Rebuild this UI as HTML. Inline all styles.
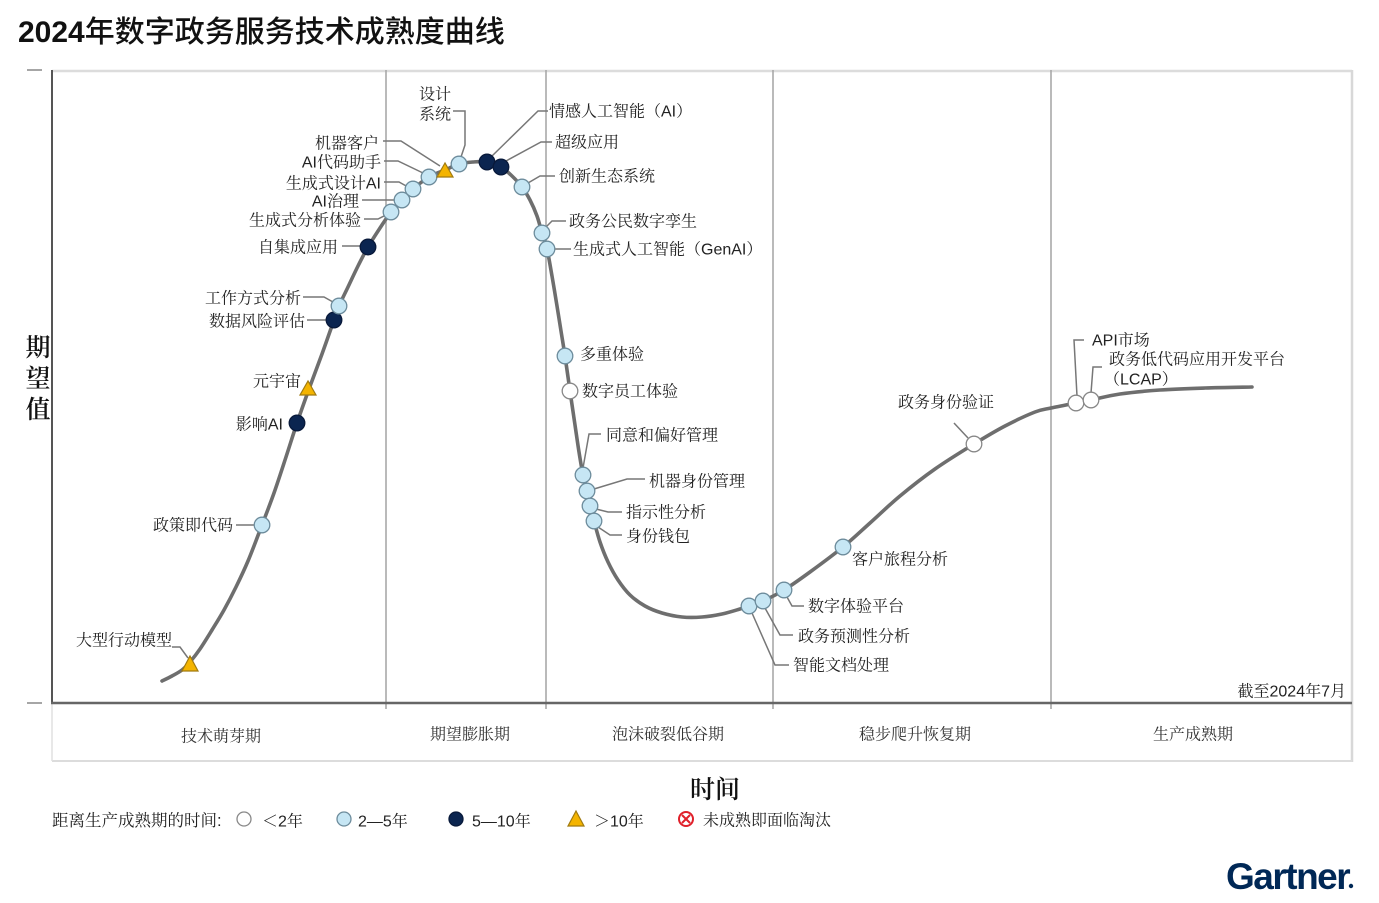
<!DOCTYPE html>
<html><head><meta charset="utf-8">
<style>
html,body{margin:0;padding:0;background:#fff;}
svg{display:block;}
.l{font-family:"Liberation Sans","Noto Serif CJK SC",serif;font-size:16px;fill:#222;dominant-baseline:central;transform:translateY(2px);}
.ph{font-family:"Liberation Sans","Noto Serif CJK SC",serif;font-size:16px;fill:#333;dominant-baseline:central;text-anchor:middle;transform:translateY(2px);}
.ld{fill:none;stroke:#777;stroke-width:1.5;}
.lb{fill:#c6e6f4;stroke:#6d8c9c;stroke-width:1.3;}
.nv{fill:#0b2550;stroke:#08193a;stroke-width:1.3;}
.wh{fill:#fff;stroke:#888;stroke-width:1.3;}
.tr{fill:#f4b400;stroke:#a07a10;stroke-width:1.2;}
</style></head>
<body>
<svg width="1379" height="903" viewBox="0 0 1379 903" xmlns="http://www.w3.org/2000/svg">
<!-- Title -->
<text x="18" y="42" style="font-size:30px;fill:#111;"><tspan style="font-family:'Liberation Sans',sans-serif;font-weight:bold;">2024</tspan><tspan style="font-family:'Noto Sans CJK SC',sans-serif;font-weight:500;">年数字政务服务技术成熟度曲线</tspan></text>

<!-- Frame -->
<line x1="52" y1="71" x2="1352" y2="71" stroke="#dcdcdc" stroke-width="2.5"/>
<line x1="1352" y1="70" x2="1352" y2="762" stroke="#d8d8d8" stroke-width="2.5"/>
<line x1="52" y1="761" x2="1352" y2="761" stroke="#dcdcdc" stroke-width="2"/>
<line x1="52" y1="703" x2="52" y2="761" stroke="#e0e0e0" stroke-width="1.5"/>
<line x1="27" y1="70" x2="42" y2="70" stroke="#888" stroke-width="1.5"/>
<line x1="27" y1="703" x2="42" y2="703" stroke="#888" stroke-width="1.5"/>
<!-- dividers -->
<line x1="386" y1="70" x2="386" y2="709" stroke="#a3a3a3" stroke-width="1.5"/>
<line x1="546" y1="70" x2="546" y2="709" stroke="#a3a3a3" stroke-width="1.5"/>
<line x1="773" y1="70" x2="773" y2="709" stroke="#a3a3a3" stroke-width="1.5"/>
<line x1="1051" y1="70" x2="1051" y2="709" stroke="#a3a3a3" stroke-width="1.5"/>
<!-- axes -->
<line x1="52" y1="70" x2="52" y2="704" stroke="#555" stroke-width="2"/>
<line x1="51" y1="703" x2="1352" y2="703" stroke="#666" stroke-width="2.5"/>

<!-- Leader lines -->
<polyline class="ld" points="172,647 180,647 188,658"/>
<polyline class="ld" points="236,525 255,525"/>
<polyline class="ld" points="307,320 327,320"/>
<polyline class="ld" points="303,297 324,297 333,302"/>
<polyline class="ld" points="342,246 361,246"/>
<polyline class="ld" points="364,219 378,219 386,215"/>
<polyline class="ld" points="362,200 395,200"/>
<polyline class="ld" points="384,182 399,182 408,187"/>
<polyline class="ld" points="384,161 398,161 423,173"/>
<polyline class="ld" points="383,141 401,141 440,166"/>
<polyline class="ld" points="453,111 465,111 465,145 461,157"/>
<polyline class="ld" points="492,156 538,111 548,111"/>
<polyline class="ld" points="506,161 541,142 552,142"/>
<polyline class="ld" points="528,183 540,176 555,176"/>
<polyline class="ld" points="546,227 552,221 566,221"/>
<polyline class="ld" points="554,249 571,249"/>
<polyline class="ld" points="583,468 589,434 601,434"/>
<polyline class="ld" points="594,489 627,479 645,479"/>
<polyline class="ld" points="596,509 608,512 622,512"/>
<polyline class="ld" points="598,527 610,535 622,535"/>
<polyline class="ld" points="787,597 792,606 804,606"/>
<polyline class="ld" points="765,608 780,635 793,635"/>
<polyline class="ld" points="752,613 775,665 789,665"/>
<polyline class="ld" points="954,423 968,438"/>
<polyline class="ld" points="1077,396 1074,340 1084,340"/>
<polyline class="ld" points="1091,393 1093,367 1102,367"/>

<!-- Curve -->
<polyline id="curve" fill="none" stroke="#6e6e6e" stroke-width="3.6" stroke-linecap="round" stroke-linejoin="round" points="162,681 172,676 182,670 190,662 200,649 212,630 224,610 236,587 248,561 262,525 274,493 286,457 297,423 309,389 322,354 334,320 339,306 348,287 358,266 368,247 380,228 391,212 402,200 413,189 429,177 445,170 459,164 473,162 487,162 501,167 512,176 522,187 530,200 537,216 542,233 547,249 552,276 557,306 561,331 565,356 570,391 575,425 579,452 583,475 587,491 590,506 594,521 600,542 608,562 618,580 630,595 645,606 662,613 682,617 702,617 722,614 740,609 749,606 763,601 784,590 810,572 843,547 870,523 900,496 935,469 974,444 1005,426 1035,412 1051,408 1076,403 1091,400 1120,394 1160,390 1205,388 1252,387"/>

<!-- Markers -->
<g>
<polygon class="tr" points="190,656 182,671 198,671"/>
<circle class="lb" cx="262" cy="525" r="7.8"/>
<circle class="nv" cx="297" cy="423" r="7.8"/>
<polygon class="tr" points="308,381 300,395 316,395"/>
<circle class="nv" cx="334" cy="320" r="7.8"/>
<circle class="lb" cx="339" cy="306" r="7.8"/>
<circle class="nv" cx="368" cy="247" r="7.8"/>
<circle class="lb" cx="391" cy="212" r="7.8"/>
<circle class="lb" cx="402" cy="200" r="7.8"/>
<circle class="lb" cx="413" cy="189" r="7.8"/>
<circle class="lb" cx="429" cy="177" r="7.8"/>
<polygon class="tr" points="445,163 437,177 453,177"/>
<circle class="lb" cx="459" cy="164" r="7.8"/>
<circle class="nv" cx="487" cy="162" r="7.8"/>
<circle class="nv" cx="501" cy="167" r="7.8"/>
<circle class="lb" cx="522" cy="187" r="7.8"/>
<circle class="lb" cx="542" cy="233" r="7.8"/>
<circle class="lb" cx="547" cy="249" r="7.8"/>
<circle class="lb" cx="565" cy="356" r="7.8"/>
<circle class="wh" cx="570" cy="391" r="7.8"/>
<circle class="lb" cx="583" cy="475" r="7.8"/>
<circle class="lb" cx="587" cy="491" r="7.8"/>
<circle class="lb" cx="590" cy="506" r="7.8"/>
<circle class="lb" cx="594" cy="521" r="7.8"/>
<circle class="lb" cx="749" cy="606" r="7.8"/>
<circle class="lb" cx="763" cy="601" r="7.8"/>
<circle class="lb" cx="784" cy="590" r="7.8"/>
<circle class="lb" cx="843" cy="547" r="7.8"/>
<circle class="wh" cx="974" cy="444" r="7.8"/>
<circle class="wh" cx="1076" cy="403" r="7.8"/>
<circle class="wh" cx="1091" cy="400" r="7.8"/>
</g>

<!-- Left labels -->
<text class="l" x="172" y="639" text-anchor="end">大型行动模型</text>
<text class="l" x="233" y="524" text-anchor="end">政策即代码</text>
<text class="l" x="283" y="423" text-anchor="end">影响AI</text>
<text class="l" x="301" y="380" text-anchor="end">元宇宙</text>
<text class="l" x="305" y="320" text-anchor="end">数据风险评估</text>
<text class="l" x="301" y="297" text-anchor="end">工作方式分析</text>
<text class="l" x="338" y="246" text-anchor="end">自集成应用</text>
<text class="l" x="361" y="219" text-anchor="end">生成式分析体验</text>
<text class="l" x="359" y="200" text-anchor="end">AI治理</text>
<text class="l" x="381" y="182" text-anchor="end">生成式设计AI</text>
<text class="l" x="381" y="161" text-anchor="end">AI代码助手</text>
<text class="l" x="379" y="142" text-anchor="end">机器客户</text>
<text class="l" x="419" y="93">设计</text>
<text class="l" x="419" y="113">系统</text>

<!-- Right labels -->
<text class="l" x="549" y="110">情感人工智能（AI）</text>
<text class="l" x="555" y="141">超级应用</text>
<text class="l" x="559" y="175">创新生态系统</text>
<text class="l" x="569" y="220">政务公民数字孪生</text>
<text class="l" x="573" y="248">生成式人工智能（GenAI）</text>
<text class="l" x="580" y="353">多重体验</text>
<text class="l" x="582" y="390">数字员工体验</text>
<text class="l" x="606" y="434">同意和偏好管理</text>
<text class="l" x="649" y="480">机器身份管理</text>
<text class="l" x="626" y="511">指示性分析</text>
<text class="l" x="626" y="535">身份钱包</text>
<text class="l" x="852" y="558">客户旅程分析</text>
<text class="l" x="808" y="605">数字体验平台</text>
<text class="l" x="798" y="635">政务预测性分析</text>
<text class="l" x="793" y="664">智能文档处理</text>
<text class="l" x="898" y="401">政务身份验证</text>
<text class="l" x="1092" y="339">API市场</text>
<text class="l" x="1109" y="358">政务低代码应用开发平台</text>
<text class="l" x="1104" y="378">（LCAP）</text>

<text class="l" x="1346" y="690" text-anchor="end">截至2024年7月</text>

<!-- Phase labels -->
<text class="ph" x="221" y="735">技术萌芽期</text>
<text class="ph" x="470" y="733">期望膨胀期</text>
<text class="ph" x="668" y="733">泡沫破裂低谷期</text>
<text class="ph" x="915" y="733">稳步爬升恢复期</text>
<text class="ph" x="1193" y="733">生产成熟期</text>

<!-- Axis titles -->
<g style="font-family:'Noto Serif CJK SC',serif;font-size:25px;font-weight:600;fill:#111;" text-anchor="middle">
<text x="38" y="356">期</text>
<text x="38" y="387">望</text>
<text x="38" y="418">值</text>
<text x="715" y="798">时间</text>
</g>

<!-- Legend -->
<text class="l" x="52" y="819" style="font-size:16.5px;">距离生产成熟期的时间:</text>
<circle class="wh" cx="244" cy="819" r="7"/>
<text class="l" x="262" y="820">＜2年</text>
<circle class="lb" cx="344" cy="819" r="7"/>
<text class="l" x="358" y="820">2—5年</text>
<circle class="nv" cx="456" cy="819" r="7"/>
<text class="l" x="472" y="820">5—10年</text>
<polygon class="tr" points="576,811 568,826 584,826"/>
<text class="l" x="594" y="820">＞10年</text>
<circle cx="686" cy="819" r="7" fill="#fff" stroke="#e0202a" stroke-width="2"/>
<line x1="682" y1="815" x2="690" y2="823" stroke="#e0202a" stroke-width="2"/>
<line x1="690" y1="815" x2="682" y2="823" stroke="#e0202a" stroke-width="2"/>
<text class="l" x="703" y="819">未成熟即面临淘汰</text>

<!-- Gartner logo -->
<text x="1226" y="889" style="font-family:'Liberation Sans',sans-serif;font-weight:bold;font-size:37px;letter-spacing:-1.5px;fill:#002856;">Gartner</text>
<circle cx="1351" cy="886" r="2.2" fill="#002856"/>
</svg>
<script>
(function(){
var pl=document.getElementById('curve');
var pts=pl.getAttribute('points').trim().split(/\s+/).map(function(p){return p.split(',').map(Number);});
var d='M'+pts[0][0]+','+pts[0][1];
for(var i=0;i<pts.length-1;i++){
 var p0=pts[i-1]||pts[i],p1=pts[i],p2=pts[i+1],p3=pts[i+2]||p2;
 var c1x=p1[0]+(p2[0]-p0[0])/6,c1y=p1[1]+(p2[1]-p0[1])/6;
 var c2x=p2[0]-(p3[0]-p1[0])/6,c2y=p2[1]-(p3[1]-p1[1])/6;
 d+=' C'+c1x.toFixed(2)+','+c1y.toFixed(2)+' '+c2x.toFixed(2)+','+c2y.toFixed(2)+' '+p2[0]+','+p2[1];
}
var ns='http://www.w3.org/2000/svg';
var path=document.createElementNS(ns,'path');
path.setAttribute('d',d);
['fill','stroke','stroke-width','stroke-linecap','stroke-linejoin'].forEach(function(a){path.setAttribute(a,pl.getAttribute(a));});
pl.parentNode.replaceChild(path,pl);
})();
</script>
</body></html>
